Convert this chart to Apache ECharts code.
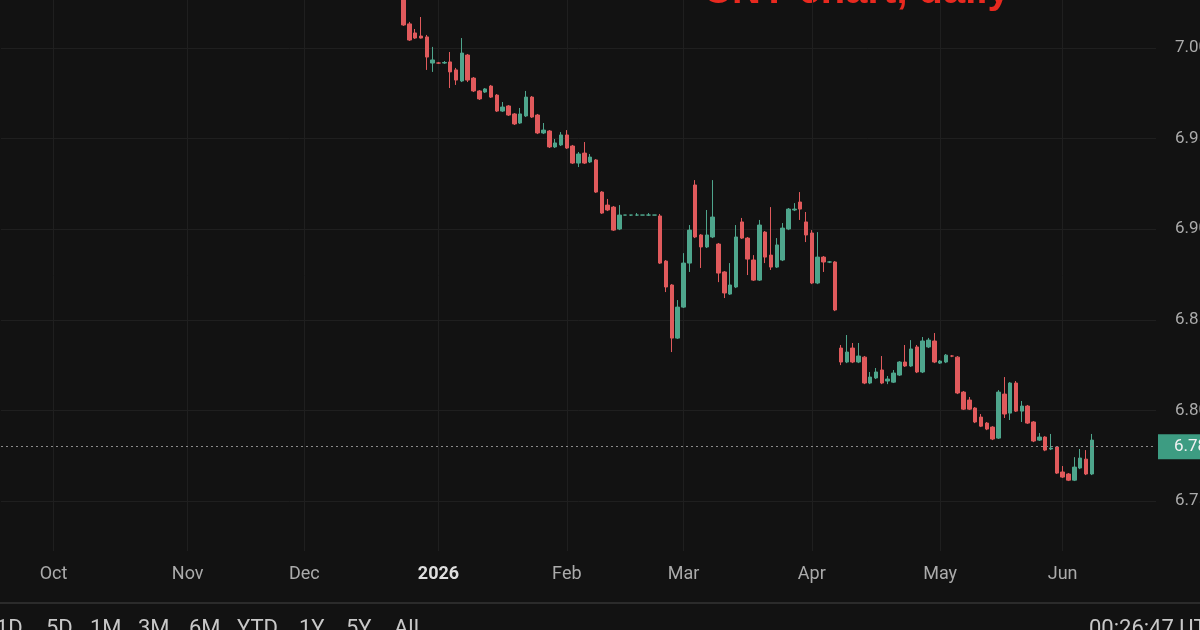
<!DOCTYPE html>
<html>
<head>
<meta charset="utf-8">
<title>CNY chart, daily</title>
<script src="https://cdn.jsdelivr.net/npm/echarts@6/dist/echarts.min.js"></script>
<style>
  html, body { margin: 0; padding: 0; background: #121212; }
  #chart { width: 1200px; height: 630px; }
</style>
</head>
<body>
<div id="chart"></div>
<script>
// time axis: one slot per weekday session, future slots on the right are empty
const axisStart = '2025-09-18';
const axisEnd = '2026-06-23';
const firstCandle = '2025-12-24';
const monthNames = ['Jan', 'Feb', 'Mar', 'Apr', 'May', 'Jun', 'Jul', 'Aug', 'Sep', 'Oct', 'Nov', 'Dec'];

// price scale
const yMin = 6.75;
const yMax = 7.05;
const yStep = 0.05;

const chartTitle = 'CNY chart, daily';
const rangeButtons = ['1D', '5D', '1M', '3M', '6M', 'YTD', '1Y', '5Y', 'All'];
const clockText = '00:26:47 UTC+8';

// daily candles from firstCandle on: [open, close, low, high]
const ohlc = [
  [7.0309, 7.0127, 7.0122, 7.0348],
  [7.0133, 7.0044, 7.0039, 7.0144],
  [7.0083, 7.0055, 7.0050, 7.0105],
  [7.0066, 7.0055, 7.0052, 7.0171],
  [7.0061, 6.9950, 6.9879, 7.0072],
  [6.9917, 6.9934, 6.9868, 7.0006],
  [6.9917, 6.9917, 6.9912, 6.9923],
  [6.9917, 6.9920, 6.9912, 6.9928],
  [6.9923, 6.9868, 6.9779, 6.9978],
  [6.9879, 6.9823, 6.9796, 6.9890],
  [6.9818, 6.9972, 6.9812, 7.0055],
  [6.9961, 6.9823, 6.9812, 6.9967],
  [6.9834, 6.9763, 6.9757, 6.9840],
  [6.9763, 6.9719, 6.9713, 6.9768],
  [6.9757, 6.9774, 6.9752, 6.9779],
  [6.9790, 6.9729, 6.9724, 6.9796],
  [6.9740, 6.9652, 6.9647, 6.9746],
  [6.9652, 6.9674, 6.9647, 6.9702],
  [6.9680, 6.9630, 6.9625, 6.9685],
  [6.9636, 6.9581, 6.9575, 6.9641],
  [6.9586, 6.9636, 6.9581, 6.9669],
  [6.9625, 6.9729, 6.9619, 6.9763],
  [6.9729, 6.9619, 6.9614, 6.9735],
  [6.9630, 6.9531, 6.9525, 6.9636],
  [6.9531, 6.9547, 6.9525, 6.9586],
  [6.9542, 6.9454, 6.9448, 6.9547],
  [6.9454, 6.9476, 6.9448, 6.9498],
  [6.9465, 6.9520, 6.9459, 6.9536],
  [6.9520, 6.9448, 6.9443, 6.9547],
  [6.9459, 6.9365, 6.9360, 6.9465],
  [6.9365, 6.9415, 6.9343, 6.9426],
  [6.9420, 6.9365, 6.9360, 6.9481],
  [6.9371, 6.9398, 6.9365, 6.9415],
  [6.9382, 6.9205, 6.9200, 6.9387],
  [6.9205, 6.9089, 6.9084, 6.9210],
  [6.9133, 6.9106, 6.9100, 6.9167],
  [6.9122, 6.8995, 6.8990, 6.9128],
  [6.9001, 6.9078, 6.8995, 6.9133],
  [6.9078, 6.9078, 6.9078, 6.9078],
  [6.9078, 6.9078, 6.9073, 6.9078],
  [6.9078, 6.9078, 6.9073, 6.9089],
  [6.9078, 6.9078, 6.9078, 6.9078],
  [6.9078, 6.9078, 6.9073, 6.9089],
  [6.9078, 6.9078, 6.9078, 6.9078],
  [6.9073, 6.8813, 6.8808, 6.9084],
  [6.8824, 6.8681, 6.8653, 6.8830],
  [6.8692, 6.8399, 6.8322, 6.8697],
  [6.8399, 6.8570, 6.8394, 6.8609],
  [6.8570, 6.8813, 6.8565, 6.8868],
  [6.8813, 6.8995, 6.8764, 6.9023],
  [6.9244, 6.8957, 6.8951, 6.9271],
  [6.8968, 6.8902, 6.8786, 6.8973],
  [6.8902, 6.8968, 6.8896, 6.9106],
  [6.8957, 6.9067, 6.8951, 6.9271],
  [6.8918, 6.8758, 6.8708, 6.8924],
  [6.8764, 6.8648, 6.8620, 6.8769],
  [6.8642, 6.8692, 6.8637, 6.8813],
  [6.8681, 6.8957, 6.8675, 6.9023],
  [6.9040, 6.8951, 6.8946, 6.9062],
  [6.8951, 6.8835, 6.8747, 6.8957],
  [6.8830, 6.8719, 6.8714, 6.8857],
  [6.8719, 6.9023, 6.8714, 6.9051],
  [6.8984, 6.8846, 6.8813, 6.8990],
  [6.8857, 6.8791, 6.8775, 6.9122],
  [6.8791, 6.8913, 6.8786, 6.8951],
  [6.8830, 6.9006, 6.8824, 6.9034],
  [6.9001, 6.9111, 6.8995, 6.9117],
  [6.9106, 6.9111, 6.9100, 6.9144],
  [6.9150, 6.9111, 6.9051, 6.9205],
  [6.9040, 6.8968, 6.8929, 6.9095],
  [6.8979, 6.8703, 6.8697, 6.8995],
  [6.8703, 6.8846, 6.8697, 6.8984],
  [6.8846, 6.8819, 6.8764, 6.8852],
  [6.8819, 6.8819, 6.8813, 6.8824],
  [6.8819, 6.8554, 6.8548, 6.8824],
  [6.8344, 6.8267, 6.8250, 6.8361],
  [6.8267, 6.8322, 6.8261, 6.8416],
  [6.8344, 6.8267, 6.8261, 6.8372],
  [6.8267, 6.8300, 6.8261, 6.8372],
  [6.8294, 6.8151, 6.8145, 6.8300],
  [6.8151, 6.8184, 6.8145, 6.8212],
  [6.8179, 6.8212, 6.8173, 6.8234],
  [6.8223, 6.8151, 6.8145, 6.8300],
  [6.8162, 6.8173, 6.8145, 6.8190],
  [6.8156, 6.8206, 6.8151, 6.8223],
  [6.8195, 6.8267, 6.8190, 6.8272],
  [6.8267, 6.8245, 6.8240, 6.8361],
  [6.8245, 6.8339, 6.8240, 6.8388],
  [6.8350, 6.8212, 6.8206, 6.8361],
  [6.8212, 6.8383, 6.8206, 6.8405],
  [6.8350, 6.8388, 6.8344, 6.8400],
  [6.8383, 6.8267, 6.8261, 6.8427],
  [6.8261, 6.8272, 6.8256, 6.8278],
  [6.8267, 6.8305, 6.8261, 6.8311],
  [6.8300, 6.8300, 6.8294, 6.8305],
  [6.8294, 6.8096, 6.8090, 6.8300],
  [6.8101, 6.8007, 6.8002, 6.8107],
  [6.8057, 6.8007, 6.8002, 6.8074],
  [6.8013, 6.7936, 6.7930, 6.8018],
  [6.7963, 6.7913, 6.7908, 6.7980],
  [6.7930, 6.7897, 6.7891, 6.7936],
  [6.7908, 6.7842, 6.7836, 6.7913],
  [6.7847, 6.8101, 6.7842, 6.8112],
  [6.8090, 6.7980, 6.7958, 6.8184],
  [6.7985, 6.8151, 6.7947, 6.8156],
  [6.8151, 6.7996, 6.7991, 6.8162],
  [6.7996, 6.8024, 6.7936, 6.8052],
  [6.8024, 6.7930, 6.7925, 6.8030],
  [6.7936, 6.7831, 6.7825, 6.7941],
  [6.7836, 6.7853, 6.7831, 6.7875],
  [6.7853, 6.7781, 6.7775, 6.7858],
  [6.7787, 6.7792, 6.7781, 6.7870],
  [6.7798, 6.7654, 6.7649, 6.7803],
  [6.7660, 6.7632, 6.7627, 6.7693],
  [6.7649, 6.7615, 6.7610, 6.7654],
  [6.7615, 6.7687, 6.7610, 6.7742],
  [6.7682, 6.7737, 6.7676, 6.7787],
  [6.7731, 6.7649, 6.7643, 6.7781],
  [6.7649, 6.7836, 6.7643, 6.7870]
];

function weekdays(from, to) {
  let out = [];
  let d = new Date(from + 'T00:00:00Z');
  let end = new Date(to + 'T00:00:00Z');
  while (d <= end) {
    let wd = d.getUTCDay();
    if (wd != 0 && wd != 6) out.push(d.toISOString().slice(0, 10));
    d.setUTCDate(d.getUTCDate() + 1);
  }
  return out;
}

const dates = weekdays(axisStart, axisEnd);
const offset = dates.indexOf(firstCandle);
const candleData = dates.map((d, i) => {
  let row = ohlc[i - offset];
  return row ? row : '-';
});
const lastClose = ohlc[ohlc.length - 1][1];

// a month tick sits on the first session of every month
function isMonthStart(i) {
  return i > 0 && dates[i].slice(0, 7) != dates[i - 1].slice(0, 7);
}
function monthLabel(v) {
  let m = +v.slice(5, 7);
  return m == 1 ? '{year|' + v.slice(0, 4) + '}' : monthNames[m - 1];
}

const upColor = '#4ea58c';
const downColor = '#e05a5c';
const gridColor = '#1f1f1f';
const textColor = '#ababab';
const font = 'Roboto';

let chart = echarts.init(document.getElementById('chart'));
let option = {
  animation: false,
  backgroundColor: '#121212',
  grid: [
    // price pane: 7.05 sits above the picture, 6.75 is the bottom line
    { left: 1, right: 44, top: -42.6, bottom: 129, containLabel: false, outerBoundsMode: 'none' },
    // time pane: vertical month lines and labels
    { left: 1, right: 44, top: 0, bottom: 79, containLabel: false, outerBoundsMode: 'none' }
  ],
  xAxis: [
    { type: 'category', gridIndex: 0, data: dates, boundaryGap: false, show: false },
    {
      type: 'category',
      gridIndex: 1,
      data: dates,
      boundaryGap: false,
      axisLine: { show: false },
      axisTick: { show: false },
      axisLabel: {
        interval: (i) => isMonthStart(i),
        formatter: monthLabel,
        color: textColor,
        fontFamily: font,
        fontSize: 18,
        margin: 14,
        rich: {
          year: { color: '#dedede', fontFamily: font, fontSize: 18, fontWeight: 'bold' }
        }
      },
      splitLine: {
        show: true,
        interval: (i) => isMonthStart(i),
        lineStyle: { color: gridColor, width: 1 }
      }
    }
  ],
  yAxis: [
    {
      type: 'value',
      gridIndex: 0,
      position: 'right',
      min: yMin,
      max: yMax,
      interval: yStep,
      axisLine: { show: false },
      axisTick: { show: false },
      axisLabel: {
        showMaxLabel: false,
        margin: 19,
        color: textColor,
        fontFamily: font,
        fontSize: 17,
        formatter: (v) => v.toFixed(4)
      },
      splitLine: { show: true, lineStyle: { color: gridColor, width: 1 } }
    },
    { type: 'value', gridIndex: 1, show: false }
  ],
  series: [
    {
      type: 'candlestick',
      xAxisIndex: 0,
      yAxisIndex: 0,
      data: candleData,
      barWidth: 4,
      itemStyle: {
        color: upColor,
        color0: downColor,
        borderColor: upColor,
        borderColor0: downColor,
        borderWidth: 1
      },
      markLine: {
        silent: true,
        symbol: 'none',
        data: [{ yAxis: lastClose }],
        lineStyle: { type: [2, 3], color: '#8a8a8a', width: 1 },
        label: {
          position: 'end',
          distance: 2,
          formatter: () => lastClose.toFixed(4),
          color: '#f2f2f2',
          fontFamily: font,
          fontSize: 17,
          backgroundColor: '#3d9c82',
          padding: [4, 12, 4, 16]
        }
      }
    }
  ],
  graphic: [
    {
      type: 'text',
      x: 703,
      y: -8,
      silent: true,
      style: {
        text: chartTitle,
        fill: '#e8291f',
        font: 'bold 40px "Liberation Sans"',
        verticalAlign: 'middle'
      }
    },
    {
      type: 'rect',
      silent: true,
      shape: { x: 0, y: 602, width: 1200, height: 2 },
      style: { fill: '#2b2b2b' }
    },
    ...rangeButtons.map((t, i) => ({
      type: 'text',
      silent: true,
      x: [-4, 46, 90, 138, 189, 237, 299, 346, 394][i],
      y: 629,
      style: { text: t, fill: '#c8c8c8', font: '22px ' + font, verticalAlign: 'middle' }
    })),
    {
      type: 'text',
      silent: true,
      x: 1089,
      y: 629,
      style: { text: clockText, fill: '#c8c8c8', font: '22px ' + font, verticalAlign: 'middle' }
    }
  ]
};
chart.setOption(option);
</script>
</body>
</html>
